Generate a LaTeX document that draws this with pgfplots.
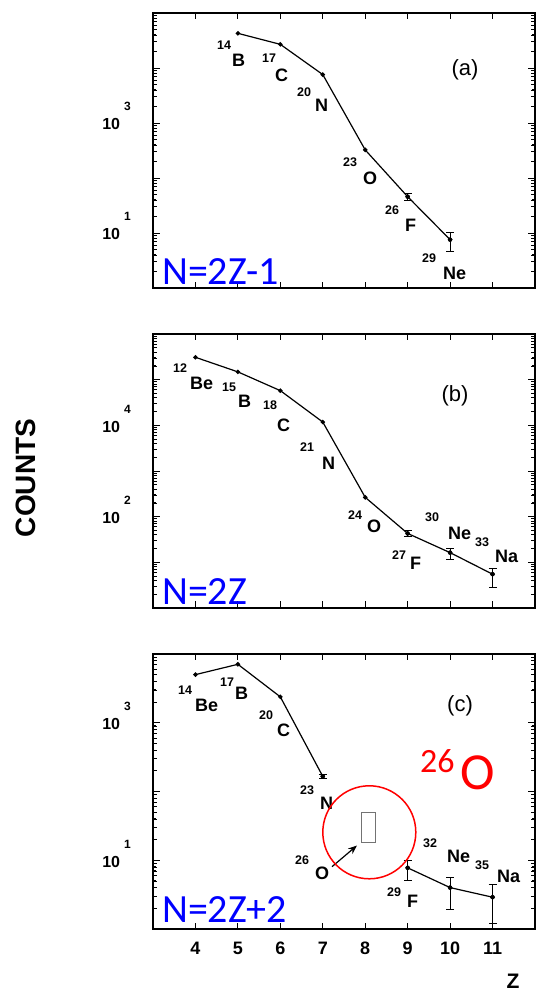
\documentclass[border=0pt]{standalone}
\usepackage{pgfplots}
\pgfplotsset{compat=1.18}
\usepackage{pgfplotstable}
\usepackage{fontspec}
\setmainfont{Liberation Sans}
\newfontfamily\calibri{Carlito}
\usetikzlibrary{arrows.meta}
\newcommand\tl[1]{10\hspace{4pt}\raisebox{19pt}{\fontsize{12}{12}\selectfont #1}}
\newcommand\supfont{\fontsize{12.5}{12.5}\selectfont\bfseries}
\newcommand\labfont{\fontsize{18}{18}\selectfont\bfseries}
\newcommand\nuc[6]{%
  \node[anchor=base west, inner sep=0pt, font=\supfont] at (#1,{991-#2}) {#3};
  \node[anchor=base west, inner sep=0pt, font=\labfont] at (#4,{991-#5}) {#6};}
\pgfplotsset{
  mypanel/.style={
    scale only axis, width=382pt,
    anchor=south west, xmin=3, xmax=12, xtick={4,5,6,7,8,9,10,11},
    extra y ticks={2,3,4,5,6,7,8,9,20,30,40,50,60,70,80,90,200,300,400,500,600,700,800,900,2000,3000,4000,5000,6000,7000,8000,9000,20000,30000,40000,50000,60000,70000,80000,90000,200000,300000,400000,500000,600000,700000,800000,900000},
    extra y tick labels={},
    extra y tick style={major tick length=3.5pt, tick style={black, line width=0.7pt}},
    tick align=inside, major tick length=6.5pt,
    axis line style={line width=1.2pt},
    tick style={black, line width=0.9pt},
    yticklabel style={font=\fontsize{16}{16}\selectfont\bfseries, anchor=base east, inner sep=0pt, xshift=-22pt, yshift=-7pt},
    xticklabel style={font=\fontsize{18}{18}\selectfont\bfseries, anchor=center, yshift=-19pt},
    clip=false,
  },
  mydat/.style={black, line width=1.2pt, mark=*, mark size=1.6pt},
  myerr/.style={black, only marks, mark=none, error bars/.cd, y dir=both, y explicit,
    error bar style={line width=1pt, black},
    error mark options={rotate=90, mark size=4pt, line width=1pt, black}},
}
\pgfplotstableread{
Z C
5 42700
6 26900
7 7590
8 324
9 45.7
10 7.57
}\dataA
\pgfplotstableread{
Z C ep em
9 45.7 6.8 5.9
10 7.57 2.43 3.02
}\errA
\pgfplotstableread{
Z C
4 309000
5 148000
6 57500
7 11800
8 265
9 42.9
10 16.3
11 5.5
}\dataB
\pgfplotstableread{
Z C ep em
9 42.9 6.1 5.9
10 16.3 3.6 4.6
11 5.5 1.86 2.63
}\errB
\pgfplotstableread{
Z C
4 5010
5 7080
6 2380
7 166
}\dataCa
\pgfplotstableread{
Z C
9 7.76
10 4.0
11 2.9
}\dataCb
\pgfplotstableread{
Z C ep em
7 166 10 10
9 7.76 2.24 2.76
10 4.0 1.6 2.1
11 2.9 1.6 1.71
}\errC
\begin{document}
\begin{tikzpicture}[x=1pt,y=1pt]
\path[use as bounding box] (0,0) rectangle (536,991);
% (a)
\begin{axis}[ymode=log, mypanel, at={(153pt,703pt)}, height=275pt, ymin=1, ymax=1e5,
  ytick={1,10,100,1000,10000,100000}, yticklabels={,\tl{1},,\tl{3},,}, xticklabels={}]
\addplot[mydat] table[x=Z,y=C] {\dataA};
\addplot[myerr] table[x=Z,y=C,y error plus=ep,y error minus=em] {\errA};
\end{axis}
% (b)
\begin{axis}[ymode=log, mypanel, at={(153pt,383pt)}, height=274pt, ymin=1, ymax=1e6,
  ytick={1,10,100,1000,10000,100000,1000000}, yticklabels={,,\tl{2},,\tl{4},,}, xticklabels={}]
\addplot[mydat] table[x=Z,y=C] {\dataB};
\addplot[myerr] table[x=Z,y=C,y error plus=ep,y error minus=em] {\errB};
\end{axis}
% (c)
\begin{axis}[ymode=log, mypanel, at={(153pt,62pt)}, height=275pt, ymin=1, ymax=1e4,
  ytick={1,10,100,1000,10000}, yticklabels={,\tl{1},,\tl{3},},
  xticklabels={4,5,6,7,8,9,10,11}]
\addplot[mydat] table[x=Z,y=C] {\dataCa};
\addplot[mydat] table[x=Z,y=C] {\dataCb};
\addplot[myerr] table[x=Z,y=C,y error plus=ep,y error minus=em] {\errC};
\end{axis}
% nuclide labels (a)
\nuc{217}{50}{14}{232}{67}{B}
\nuc{262}{63}{17}{275}{82}{C}
\nuc{297}{97}{20}{315}{112}{N}
\nuc{343}{167}{23}{363}{185}{O}
\nuc{385}{215}{26}{405}{232}{F}
\nuc{422}{263}{29}{443}{280}{Ne}
% (b)
\nuc{173}{373}{12}{190}{390}{Be}
\nuc{222}{392}{15}{238}{408}{B}
\nuc{263}{410}{18}{277}{432}{C}
\nuc{300}{452}{21}{322}{470}{N}
\nuc{348}{520}{24}{367}{533}{O}
\nuc{392}{560}{27}{410}{570}{F}
\nuc{425}{522}{30}{448}{540}{Ne}
\nuc{475}{547}{33}{495}{563}{Na}
% (c)
\nuc{178}{695}{14}{195}{712}{Be}
\nuc{220}{687}{17}{235}{700}{B}
\nuc{259}{720}{20}{277}{737}{C}
\nuc{300}{795}{23}{320}{810}{N}
\nuc{295}{865}{26}{315}{880}{O}
\nuc{387}{897}{29}{407}{908}{F}
\nuc{423}{848}{32}{447}{863}{Ne}
\nuc{475}{870}{35}{497}{883}{Na}
% panel tags
\node[font=\fontsize{22}{22}\selectfont] at (465,{991-70}) {(a)};
\node[font=\fontsize{22}{22}\selectfont] at (455,{991-396}) {(b)};
\node[font=\fontsize{22}{22}\selectfont] at (460,{991-706}) {(c)};
% blue texts
\node[anchor=base west, inner sep=0pt, text=blue, font=\calibri\fontsize{40}{40}\selectfont] at (162,{991-285}) {N=2Z-1};
\node[anchor=base west, inner sep=0pt, text=blue, font=\calibri\fontsize{40}{40}\selectfont] at (162,{991-605}) {N=2Z};
\node[anchor=base west, inner sep=0pt, text=blue, font=\calibri\fontsize{40}{40}\selectfont] at (162,{991-923}) {N=2Z+2};
% axis titles
\node[rotate=90, font=\fontsize{28}{28}\selectfont\bfseries] at (26,{991-478}) {COUNTS};
\node[font=\fontsize{21}{21}\selectfont\bfseries] at (513,{991-981}) {Z};
% annotation for 26O
\draw[-{Stealth[length=9pt,width=7pt]}, line width=1.2pt] (332,{991-866.7}) -- (357,{991-845.5});
\draw[black!55, line width=1pt] (361.7,{991-842.3}) rectangle (375,{991-812.7});
\draw[red, line width=1.5pt] (369.3,{991-832.3}) circle (46.5);
\node[anchor=base west, inner sep=0pt, text=red, font=\calibri\fontsize{34}{34}\selectfont] at (420,{991-773}) {26};
\node[anchor=base west, inner sep=0pt, text=red, font=\calibri\fontsize{52}{52}\selectfont] at (460,{991-790}) {O};
\end{tikzpicture}
\end{document}
